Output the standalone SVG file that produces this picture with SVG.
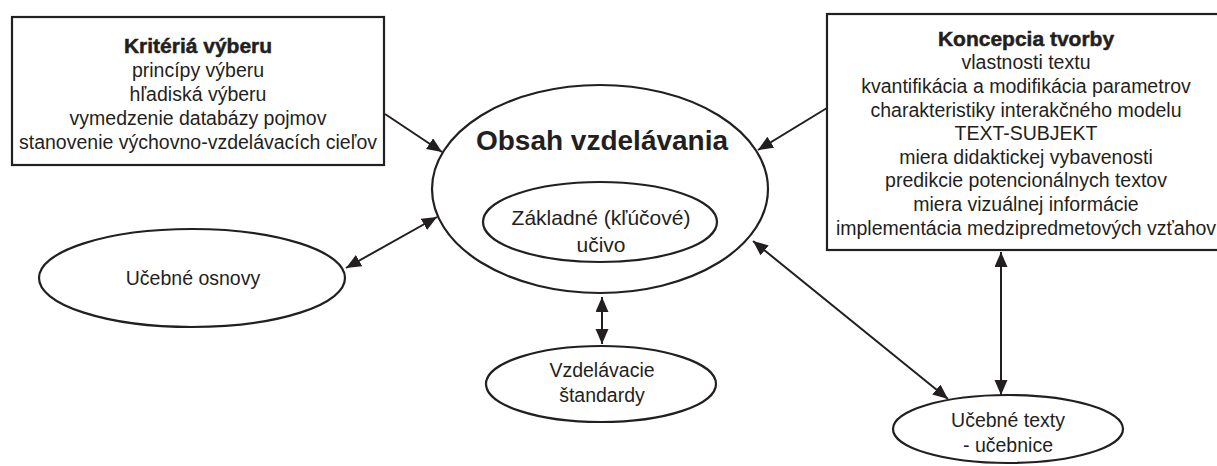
<svg xmlns="http://www.w3.org/2000/svg" width="1217" height="466" viewBox="0 0 1217 466">
<defs>
<style>
text{font-family:"Liberation Sans",Arial,Helvetica,sans-serif;fill:#231f20;text-anchor:middle}
.t{font-size:19.5px}
.b{font-size:21px;font-weight:bold;stroke:#231f20;stroke-width:0.5}
.shape{fill:#fff;stroke:#231f20;stroke-width:2.2}
.con line{stroke:#231f20;stroke-width:2;marker-end:url(#ah)}
.bi{marker-start:url(#ah)}
</style>
<marker id="ah" markerUnits="userSpaceOnUse" markerWidth="16" markerHeight="14" refX="15" refY="6.5" orient="auto-start-reverse">
<path d="M0,0 L15,6.5 L0,13 z" fill="#231f20"/>
</marker>
</defs>
<rect width="1217" height="466" fill="#fff"/>
<g id="kriteria">
<rect class="shape" x="12" y="17" width="372" height="148"/>
<text class="b" x="198" y="53">Kritériá výberu</text>
<text class="t" x="198" y="77">princípy výberu</text>
<text class="t" x="198" y="101">hľadiská výberu</text>
<text class="t" x="198" y="125">vymedzenie databázy pojmov</text>
<text class="t" x="198" y="149">stanovenie výchovno-vzdelávacích cieľov</text>
</g>
<g id="koncepcia">
<rect class="shape" x="827" y="14" width="420" height="236"/>
<text class="b" x="1026" y="46">Koncepcia tvorby</text>
<text class="t" x="1026" y="69">vlastnosti textu</text>
<text class="t" x="1026" y="93">kvantifikácia a modifikácia parametrov</text>
<text class="t" x="1026" y="117">charakteristiky interakčného modelu</text>
<text class="t" x="1026" y="140">TEXT-SUBJEKT</text>
<text class="t" x="1026" y="164">miera didaktickej vybavenosti</text>
<text class="t" x="1026" y="187">predikcie potencionálnych textov</text>
<text class="t" x="1026" y="211">miera vizuálnej informácie</text>
<text class="t" x="1026" y="235">implementácia medzipredmetových vzťahov</text>
</g>
<g id="obsah">
<ellipse class="shape" cx="600" cy="189" rx="168" ry="104"/>
<text x="602" y="150" style="font-size:28px;font-weight:bold">Obsah vzdelávania</text>
</g>
<g id="zakladne">
<ellipse class="shape" cx="600" cy="222" rx="117" ry="40"/>
<text x="601" y="225" style="font-size:21px">Základné (kľúčové)</text>
<text x="601" y="252" style="font-size:21px">učivo</text>
</g>
<g id="osnovy">
<ellipse class="shape" cx="192" cy="278" rx="153" ry="49"/>
<text class="t" x="193" y="285">Učebné osnovy</text>
</g>
<g id="standardy">
<ellipse class="shape" cx="601" cy="384" rx="115" ry="38"/>
<text class="t" x="602" y="377">Vzdelávacie</text>
<text class="t" x="602" y="402">štandardy</text>
</g>
<g id="texty">
<ellipse class="shape" cx="1008" cy="429" rx="115" ry="34"/>
<text class="t" x="1008" y="427">Učebné texty</text>
<text class="t" x="1008" y="452">- učebnice</text>
</g>
<g id="connectors" class="con">
<line x1="385" y1="114" x2="442" y2="152"/>
<line x1="827" y1="108" x2="758" y2="150"/>
<line class="bi" x1="346" y1="268" x2="437" y2="217"/>
<line class="bi" x1="602" y1="297" x2="602" y2="344"/>
<line class="bi" x1="753" y1="241" x2="948" y2="399"/>
<line class="bi" x1="1001" y1="252" x2="1001" y2="395"/>
</g>
</svg>
